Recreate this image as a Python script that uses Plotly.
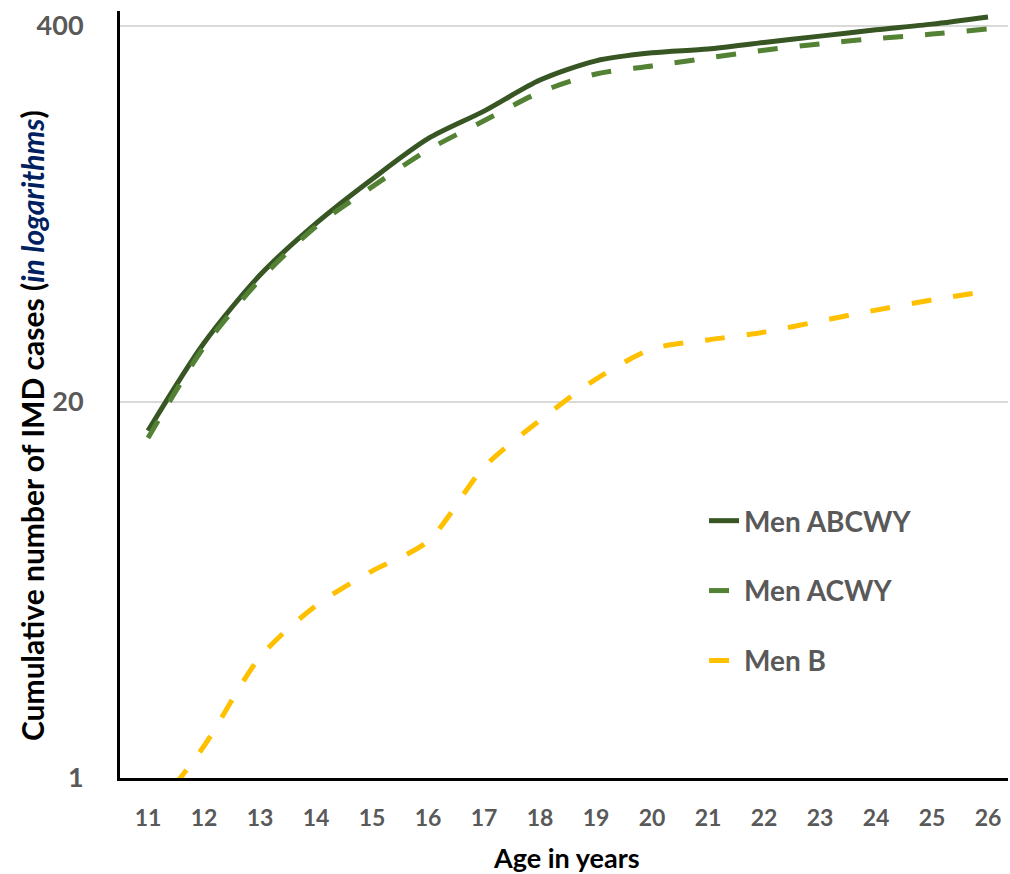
import plotly.graph_objects as go

ages = list(range(11, 27))
men_abcwy = [15.9, 32, 55, 83, 118, 163, 203, 260, 303, 323, 333, 351, 369, 388, 406, 430]
men_acwy = [15.0, 31, 53, 81, 111, 149, 188, 236, 273, 291, 310, 330, 347, 362, 375, 391]
men_b = [0.72, 1.29, 2.62, 3.95, 5.2, 6.6, 11.9, 17.3, 24, 30.5, 32.8, 34.9, 38.1, 41.6, 45.1, 48.4]

y_ticks = [1, 20, 400]
names = ["Men ABCWY", "Men ACWY", "Men B"]
colors = ["#375623", "#548235", "#FFC000"]
dashes = ["solid", "20px,22px", "20px,22px"]
series = [men_abcwy, men_acwy, men_b]

FONT = "Lato"
GRAY = "#595959"

fig = go.Figure()
for i, (nm, vals) in enumerate(zip(names, series)):
    fig.add_trace(go.Scatter(
        x=ages, y=vals, name=nm, mode="lines", legendgroup=nm,
        line=dict(color=colors[i], width=5, dash=dashes[i], shape="spline", smoothing=0.8),
    ))

fig.update_layout(
    width=1010, height=874,
    margin=dict(l=120, r=2, t=11, b=96),
    paper_bgcolor="white", plot_bgcolor="white",
    showlegend=True,
    legend=dict(
        x=0.6577, y=0.3677, xanchor="left", yanchor="top",
        font=dict(family=FONT, size=28, color=GRAY, weight="bold"),
        tracegroupgap=30.5, bgcolor="rgba(0,0,0,0)",
    ),
    xaxis=dict(
        range=[10.5, 10.5 + 888 / 56], tickvals=ages, ticktext=[str(a) for a in ages],
        showgrid=False, showline=True, linecolor="black", linewidth=3,
        tickfont=dict(family=FONT, size=23, color=GRAY, weight="bold"),
        ticks="", ticklabelstandoff=17, zeroline=False, automargin=False,
    ),
    yaxis=dict(
        type="log", range=[0, 2.654], tickvals=y_ticks, ticktext=[str(v) for v in y_ticks],
        showgrid=True, gridcolor="#d9d9d9", gridwidth=2,
        showline=True, linecolor="black", linewidth=3,
        tickfont=dict(family=FONT, size=27, color=GRAY, weight="bold"),
        ticks="", ticklabelstandoff=28, zeroline=False, automargin=False,
    ),
    annotations=[
        dict(text="Cumulative number of IMD cases (<i><span style='color:#002060'>in logarithms</span></i>)",
             xref="paper", yref="paper", x=-0.099, y=0.459, xanchor="center", yanchor="middle",
             textangle=-90, showarrow=False,
             font=dict(family=FONT, size=30, color="black", weight="bold")),
        dict(text="Age in years", xref="paper", yref="paper", x=0.503, y=-0.104,
             xanchor="center", yanchor="middle", showarrow=False,
             font=dict(family=FONT, size=27, color="black", weight="bold")),
    ],
)

fig.write_html(
    "out.html",
    config={"displayModeBar": False},
    post_script="document.body.style.margin='0';document.body.style.overflow='hidden';",
)
